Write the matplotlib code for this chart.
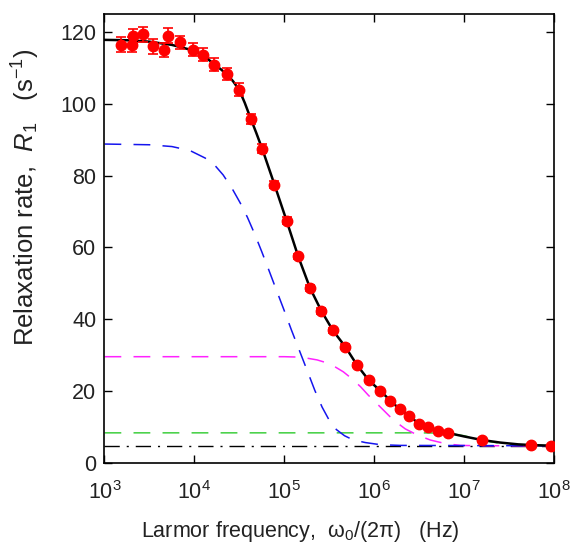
import matplotlib
matplotlib.use("Agg")
import matplotlib.pyplot as plt
import numpy as np

plt.rcParams['font.family'] = ['Liberation Sans', 'DejaVu Sans']
plt.rcParams['mathtext.fontset'] = 'custom'
plt.rcParams['mathtext.rm'] = 'Liberation Sans'
plt.rcParams['mathtext.it'] = 'Liberation Sans:italic'
plt.rcParams['mathtext.sf'] = 'Liberation Sans'

# measured data
freq_data = [1514, 2010, 2094, 2704, 3491, 4634, 5131, 6930, 9600, 12500, 16600,
             23300, 31500, 42500, 57200, 77800, 1.06e5, 1.43e5, 1.93e5, 2.58e5,
             3.48e5, 4.76e5, 6.43e5, 8.66e5, 1.17e6, 1.51e6, 1.92e6, 2.46e6,
             3.12e6, 3.97e6, 5.08e6, 6.57e6, 1.585e7, 5.61e7, 9.37e7]
r1_data = [116.5, 116.5, 118.8, 119.3, 116.0, 114.9, 119.0, 117.1, 115.0, 113.7, 110.9,
           108.3, 103.9, 95.8, 87.5, 77.5, 67.5, 57.5, 48.8, 42.4,
           36.9, 32.4, 27.3, 23.1, 20.1, 17.4, 15.0, 13.1,
           11.0, 9.9, 9.0, 8.4, 6.4, 5.1, 4.7]
r1_err = [2.0, 2.0, 2.0, 2.0, 2.0, 2.0, 2.0, 1.8, 1.8, 1.8, 1.8,
          1.8, 1.8, 1.5, 1.2, 1.0, 1.0, 0.8, 0.8, 0.8,
          0.6, 0.6, 0.5, 0.5, 0.4, 0.4, 0.4, 0.3,
          0.3, 0.3, 0.3, 0.3, 0.3, 0.3, 0.3]

# total fit (log10 of frequency, rate)
fit_logf = [3.0, 3.25, 3.5, 3.75, 3.98, 4.1, 4.22, 4.3, 4.367, 4.43, 4.498, 4.56,
            4.628, 4.69, 4.757, 4.891, 5.025, 5.155, 5.285, 5.411, 5.541, 5.678,
            5.808, 5.938, 6.068, 6.179, 6.283, 6.391, 6.494, 6.599, 6.706, 6.817,
            7.0, 7.2, 7.4, 7.6, 7.75, 8.0]
fit_r1 = [117.8, 117.7, 117.3, 116.4, 114.9, 113.5, 111.0, 109.5, 108.0, 106.3, 103.9, 100.3,
          95.8, 91.8, 87.3, 77.5, 67.5, 57.5, 48.8, 42.4, 36.9, 32.4,
          27.3, 23.1, 20.1, 17.4, 15.0, 13.1, 11.0, 9.9, 9.0, 8.4,
          7.4, 6.4, 5.7, 5.2, 5.0, 4.8]

# component 1 (blue dashed)
blue_logf = [3.0, 3.5, 3.75, 3.95, 4.12, 4.23, 4.32, 4.42, 4.51, 4.59, 4.67, 4.75,
             4.83, 4.91, 5.0, 5.08, 5.17, 5.26, 5.34, 5.42, 5.5, 5.58, 5.67, 5.76,
             5.9, 6.07, 6.29, 8.0]
blue_r1 = [88.8, 88.6, 88.1, 87.0, 84.9, 82.8, 80.2, 76.4, 72.4, 68.4, 63.8, 58.8,
           53.6, 48.3, 42.4, 37.0, 31.2, 25.4, 20.2, 15.6, 11.9, 9.3, 7.6, 6.5,
           5.7, 5.1, 4.9, 4.8]

# component 2 (magenta dashed)
mag_logf = [3.0, 5.0, 5.144, 5.25, 5.366, 5.51, 5.656, 5.756, 5.85, 5.934, 6.068,
            6.212, 6.346, 6.48, 6.625, 6.792, 6.959, 7.2, 8.0]
mag_r1 = [29.6, 29.6, 29.5, 29.2, 28.7, 27.6, 25.4, 23.4, 21.2, 18.9, 15.6,
          12.0, 9.5, 7.8, 6.4, 5.4, 4.9, 4.8, 4.8]

# component 3 (green dashed)
green_logf = [3.0, 6.5, 6.8, 7.0, 7.2, 7.4, 7.6, 8.0]
green_r1 = [8.4, 8.4, 8.3, 7.6, 6.3, 5.5, 5.0, 4.8]

# high-frequency limit (black dash-dot)
inf_logf = [3.0, 8.0]
inf_r1 = [4.8, 4.8]

fig = plt.figure(figsize=(5.70, 5.43), dpi=100)
ax = fig.add_axes([0.1833, 0.1473, 0.9719 - 0.1833, 0.9742 - 0.1473])

ax.plot(10 ** np.array(inf_logf), inf_r1, color='black', lw=1.0,
        dashes=(11, 5, 1.5, 5))
ax.plot(10 ** np.array(green_logf), green_r1, color='#3fcf3f', lw=1.1, dashes=(11, 8))
ax.plot(10 ** np.array(mag_logf), mag_r1, color='#ff22ff', lw=1.1, dashes=(11, 8))
ax.plot(10 ** np.array(blue_logf), blue_r1, color='#1515ee', lw=1.1, dashes=(11, 8))
ax.plot(10 ** np.array(fit_logf), fit_r1, color='black', lw=1.8, zorder=3)
ax.errorbar(freq_data, r1_data, yerr=r1_err, fmt='o', color='#ff0000', ms=7.5,
            mec='#ff0000', ecolor='#ff0000', elinewidth=1.2, capsize=3.5,
            capthick=1.2, zorder=4)

ax.set_xscale('log')
ax.set_xlim(1e3, 1e8)
ax.set_ylim(0, 125)
ax.set_xticks([1e3, 1e4, 1e5, 1e6, 1e7, 1e8])
ax.set_xticklabels([r'$10^{3}$', r'$10^{4}$', r'$10^{5}$', r'$10^{6}$', r'$10^{7}$', r'$10^{8}$'])
ax.xaxis.set_minor_locator(matplotlib.ticker.NullLocator())
ax.set_yticks([0, 20, 40, 60, 80, 100, 120])
ax.tick_params(direction='in', length=6, width=1.0, labelsize=15.5,
               top=True, right=True, pad=6, labelcolor='#222222')
ax.tick_params(axis='x', pad=13)
for s in ax.spines.values():
    s.set_linewidth(1.2)

ax.set_xlabel('Larmor frequency,  ω$_0$/(2π)   (Hz)', fontsize=15.5,
              color='#222222')
ax.xaxis.set_label_coords(0.435, -0.124)
ax.set_ylabel(r'Relaxation rate,  $\mathit{R}_1$   (s$^{-1}$)', fontsize=18.5,
              color='#222222')
ax.yaxis.set_label_coords(-0.14, 0.592)

fig.savefig('out.png', dpi=100)
